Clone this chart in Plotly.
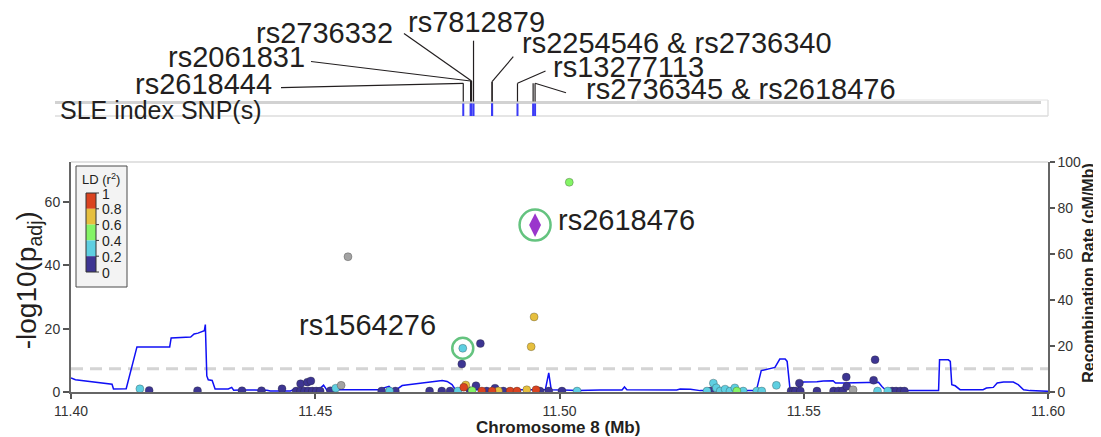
import plotly.graph_objects as go

# ---------------- page geometry (reference pixels) ----------------
# The browser page adds an 8 px body margin, so the figure is 8 px smaller
# and every reference pixel position is expressed relative to the plot area.
PAGE_W, PAGE_H, BODY = 1101, 437, 8
PL, PR, PT, PB = 71, 1048, 162, 392          # plot area in page pixels
FW, FH = PAGE_W - BODY, PAGE_H - BODY
ML, MT = PL - BODY, PT - BODY
MR, MBOT = FW - (PR - BODY), FH - (PB - BODY)
PW, PH = PR - PL, PB - PT
XMIN, XMAX = 11.40, 11.60
PMAX = 72.6      # -log10(p) axis top
RMAX = 100       # recombination axis top

# ---------------- data ----------------
x_ticks = [11.40, 11.45, 11.50, 11.55, 11.60]
x_ticktext = ["11.40", "11.45", "11.50", "11.55", "11.60"]
p_ticks = [0, 20, 40, 60]
r_ticks = [0, 20, 40, 60, 80, 100]
gw_threshold = 7.3

ld_bins = ["0.8-1", "0.6-0.8", "0.4-0.6", "0.2-0.4", "0-0.2"]
ld_bin_labels = ["1", "0.8", "0.6", "0.4", "0.2", "0"]
ld_colors = {"0.8-1": "#DA4320", "0.6-0.8": "#E6BF3E", "0.4-0.6": "#84F466",
             "0.2-0.4": "#5ECFE1", "0-0.2": "#3D3592", "NA": "#A3A3A3"}

recomb_pos = [11.4000, 11.4009, 11.4084, 11.4087, 11.4113, 11.4135, 11.4202, 11.4205,
              11.4245, 11.4252, 11.4260, 11.4273, 11.4275, 11.4278, 11.4281, 11.4289,
              11.4295, 11.4322, 11.4329, 11.4333, 11.4346, 11.4401, 11.4408, 11.4449,
              11.4456, 11.4469, 11.4510, 11.4517, 11.4524, 11.4537, 11.4633, 11.4639,
              11.4651, 11.4658, 11.4666, 11.4678, 11.4690, 11.4715, 11.4729, 11.4742,
              11.4760, 11.4770, 11.4780, 11.4787, 11.4961, 11.4971, 11.4978, 11.4983,
              11.5008, 11.5036, 11.5083, 11.5128, 11.5133, 11.5138, 11.5240, 11.5247,
              11.5268, 11.5288, 11.5403, 11.5413, 11.5441, 11.5446, 11.5451, 11.5462,
              11.5466, 11.5472, 11.5487, 11.5493, 11.5499, 11.5527, 11.5540, 11.5560,
              11.5565, 11.5581, 11.5643, 11.5653, 11.5660, 11.5667, 11.5677, 11.5776,
              11.5778, 11.5796, 11.5800, 11.5803, 11.5810, 11.5820, 11.5867, 11.5874,
              11.5888, 11.5896, 11.5909, 11.5929, 11.5939, 11.5950, 11.5963, 11.6000]
recomb_rate = [6.1, 5.3, 3.4, 1.3, 1.4, 19.6, 19.6, 23.5,
               23.9, 25.2, 25.6, 26.7, 29.3, 7.0, 5.3, 5.0,
               1.3, 1.3, 2.0, 0.8, 0.9, 0.8, 0.4, 0.4,
               1.2, 1.0, 1.6, 3.0, 0.8, 1.0, 1.0, 1.7,
               2.5, 1.0, 1.0, 2.8, 3.2, 3.9, 4.3, 4.8,
               5.0, 4.6, 3.2, 1.0, 1.0, 1.0, 8.3, 1.0,
               0.9, 0.6, 0.9, 0.9, 2.2, 1.0, 0.9, 1.3,
               1.2, 0.6, 0.6, 9.3, 10.7, 12.6, 14.3, 14.3,
               13.3, 1.0, 0.8, 3.6, 4.3, 4.5, 4.8, 4.9,
               3.9, 3.9, 4.2, 4.2, 2.4, 1.0, 0.6, 0.6,
               14.0, 14.0, 13.3, 3.2, 2.7, 1.0, 1.0, 1.7,
               2.0, 3.9, 4.3, 4.3, 3.2, 1.0, 0.6, 0.3]

# SNPs: position (Mb), -log10(p_adj), LD bin with lead SNP
snp_pos = [
    # r2 0-0.2
    11.4160, 11.4259, 11.4350, 11.4390, 11.4432, 11.4470, 11.4484, 11.4491,
    11.4461, 11.4470, 11.4478, 11.4486, 11.4494, 11.4502, 11.4510, 11.4531,
    11.4636, 11.4664, 11.4734, 11.4759, 11.4776, 11.4800, 11.4838, 11.4829,
    11.4817, 11.4851, 11.4868, 11.4885, 11.4960, 11.4978, 11.5005, 11.5309,
    11.5474, 11.5479, 11.5483, 11.5491, 11.5493, 11.5527, 11.5561, 11.5571,
    11.5580, 11.5587, 11.5588, 11.5646, 11.5643, 11.5681, 11.5689, 11.5698, 11.5706,
    # r2 0.2-0.4
    11.4141, 11.4542, 11.4652, 11.4792, 11.4802, 11.5036, 11.5302, 11.5315,
    11.5321, 11.5329, 11.5339, 11.5349, 11.5359, 11.5376, 11.5404, 11.5414,
    11.5444, 11.5651, 11.5672,
    # r2 0.4-0.6
    11.5020, 11.4821, 11.5363,
    # r2 0.6-0.8
    11.4948, 11.4942, 11.4808, 11.4875, 11.4933,
    # r2 0.8-1
    11.4804, 11.4841, 11.4862, 11.4899, 11.4913, 11.4952,
    # no LD information
    11.4567, 11.4553, 11.5601,
]
snp_logp = [
    0.5, 0.4, 0.4, 0.4, 1.0, 2.6, 3.1, 3.5,
    0.3, 0.3, 0.3, 0.3, 0.3, 0.3, 0.3, 0.4,
    0.3, 0.3, 0.3, 0.3, 0.3, 8.8, 15.3, 2.0,
    0.4, 0.3, 1.2, 0.3, 0.3, 0.3, 0.3, 0.3,
    0.3, 0.3, 0.3, 2.8, 0.3, 0.3, 0.3, 0.3,
    0.4, 4.7, 1.8, 10.2, 3.7, 0.3, 0.3, 0.3, 0.3,
    1.0, 1.2, 0.3, 0.3, 13.8, 0.3, 0.3, 2.8,
    1.3, 0.3, 0.9, 0.3, 1.3, 0.3, 0.3, 0.3,
    2.1, 0.3, 0.3,
    66.2, 0.4, 0.3,
    23.7, 14.3, 2.2, 0.3, 0.7,
    1.5, 0.3, 0.3, 0.3, 0.3, 0.7,
    42.7, 2.1, 0.7,
]
snp_ld = (["0-0.2"] * 49 + ["0.2-0.4"] * 19 + ["0.4-0.6"] * 3 +
          ["0.6-0.8"] * 5 + ["0.8-1"] * 6 + ["NA"] * 3)

lead_name, lead_pos, lead_logp = "rs2618476", 11.4950, 52.7
second_name, second_pos, second_logp = "rs1564276", 11.4802, 13.8

index_names = ["rs2618444", "rs2061831", "rs2736332", "rs7812879", "rs2254546",
               "rs2736340", "rs13277113", "rs2736345", "rs2618476"]
index_pos = [11.4803, 11.4818, 11.4820, 11.4824, 11.4862, 11.4862, 11.4914, 11.4946, 11.4950]

# ---------------- helpers (page pixel -> paper) ----------------
def pxx(x):
    return (x - PL) / PW

def pxy(y):
    return (PB - y) / PH

def mb_to_px(pos):
    return PL + (pos - XMIN) / (XMAX - XMIN) * PW

INK = "#231f20"
FONT = "Arial, Liberation Sans, Helvetica, sans-serif"

fig = go.Figure()

# recombination rate (right axis)
fig.add_trace(go.Scatter(x=recomb_pos, y=recomb_rate, mode="lines", yaxis="y",
                         line=dict(color="#1010F5", width=1.5), hoverinfo="skip",
                         showlegend=False))

# SNP points (left axis)
order = ["0-0.2", "0.2-0.4", "NA", "0.4-0.6", "0.6-0.8", "0.8-1"]
for b in order:
    xs = [p for p, l in zip(snp_pos, snp_ld) if l == b]
    ys = [v for v, l in zip(snp_logp, snp_ld) if l == b]
    fig.add_trace(go.Scatter(x=xs, y=ys, mode="markers", yaxis="y2",
                             marker=dict(size=8, color=ld_colors[b],
                                         line=dict(width=0.5, color="rgba(40,40,40,0.6)")),
                             showlegend=False))

# lead SNP diamond
fig.add_trace(go.Scatter(x=[lead_pos], y=[lead_logp], mode="markers", yaxis="y2",
                         marker=dict(symbol="diamond-tall", size=17, color="#9A35CC",
                                     line=dict(width=0)), showlegend=False))
# highlight circles
fig.add_trace(go.Scatter(x=[lead_pos, second_pos], y=[lead_logp, second_logp],
                         mode="markers", yaxis="y2",
                         marker=dict(symbol="circle-open", size=[31, 21], color="#22AA48",
                                     line=dict(width=2.5)), showlegend=False))

shapes = []
annotations = []

# genome-wide threshold
shapes.append(dict(type="line", xref="paper", yref="y2", x0=0, x1=1,
                   y0=gw_threshold, y1=gw_threshold, layer="below",
                   line=dict(color="#D4D4D4", width=3, dash="12px,7px")))
# top border of the plot
shapes.append(dict(type="line", xref="paper", yref="paper", x0=0, x1=1, y0=1, y1=1,
                   line=dict(color="#E2E2E2", width=2)))

# annotated SNPs in the main panel
annotations.append(dict(text=lead_name, x=pxx(556), y=pxy(220), xref="paper", yref="paper",
                        xanchor="left", yanchor="middle", showarrow=False,
                        font=dict(size=29, color=INK, family=FONT)))
annotations.append(dict(text=second_name, x=pxx(438), y=pxy(325), xref="paper", yref="paper",
                        xanchor="right", yanchor="middle", showarrow=False,
                        font=dict(size=29, color=INK, family=FONT)))

# ---------------- LD legend ----------------
shapes.append(dict(type="rect", xref="paper", yref="paper",
                   x0=pxx(76), x1=pxx(127), y0=pxy(166), y1=pxy(287),
                   fillcolor="#F3F3F3", line=dict(color="#4A4A4A", width=1)))
edges = [193, 208.8, 224.6, 240.4, 256.2, 272]
for i, b in enumerate(ld_bins):
    shapes.append(dict(type="rect", xref="paper", yref="paper",
                       x0=pxx(86), x1=pxx(96), y0=pxy(edges[i]), y1=pxy(edges[i + 1]),
                       fillcolor=ld_colors[b], line=dict(width=0)))
shapes.append(dict(type="rect", xref="paper", yref="paper",
                   x0=pxx(86), x1=pxx(96), y0=pxy(edges[0]), y1=pxy(edges[-1]),
                   line=dict(color="#333333", width=1)))
for i, lab in enumerate(ld_bin_labels):
    shapes.append(dict(type="line", xref="paper", yref="paper",
                       x0=pxx(96), x1=pxx(99), y0=pxy(edges[i]), y1=pxy(edges[i]),
                       line=dict(color="#333333", width=1)))
    annotations.append(dict(text=lab, x=pxx(99.5), y=pxy(edges[i] + 0.5), xref="paper",
                            yref="paper", xanchor="left", yanchor="middle", showarrow=False,
                            font=dict(size=14, color=INK, family=FONT)))
annotations.append(dict(text="LD (r<sup>2</sup>)", x=pxx(80), y=pxy(179), xref="paper",
                        yref="paper", xanchor="left", yanchor="middle", showarrow=False,
                        font=dict(size=13, color=INK, family=FONT)))

# ---------------- index SNP track ----------------
TRACK_L, TRACK_R, TRACK_TOP, TRACK_BOT = 55, 1048, 101.5, 116
shapes.append(dict(type="line", xref="paper", yref="paper",
                   x0=pxx(TRACK_L), x1=pxx(TRACK_R), y0=pxy(TRACK_BOT), y1=pxy(TRACK_BOT),
                   line=dict(color="#DCDCDC", width=1.5)))
shapes.append(dict(type="line", xref="paper", yref="paper",
                   x0=pxx(TRACK_R), x1=pxx(TRACK_R), y0=pxy(TRACK_BOT), y1=pxy(100),
                   line=dict(color="#DCDCDC", width=1.3)))
shapes.append(dict(type="line", xref="paper", yref="paper",
                   x0=pxx(637), x1=pxx(TRACK_R), y0=pxy(100), y1=pxy(100),
                   line=dict(color="#E2E2E2", width=1)))
shapes.append(dict(type="line", xref="paper", yref="paper",
                   x0=pxx(TRACK_L), x1=pxx(1041), y0=pxy(TRACK_TOP + 1), y1=pxy(TRACK_TOP + 1),
                   line=dict(color="#D2D2D2", width=3)))
for p in index_pos:
    xp = pxx(mb_to_px(p))
    shapes.append(dict(type="line", xref="paper", yref="paper", x0=xp, x1=xp,
                       y0=pxy(103.5), y1=pxy(116), line=dict(color="#3B3BF6", width=2)))
annotations.append(dict(text="SLE index SNP(s)", x=pxx(58), y=pxy(110), xref="paper",
                        yref="paper", xanchor="left", yanchor="middle", showarrow=False,
                        font=dict(size=25, color=INK, family=FONT)))

# labels: (text, member SNPs, elbow y, leader end (px), text x, text y, anchor)
track_labels = [
    ("rs2618444", ["rs2618444"], 83.3, (281, 87.7), 274, 84, "right"),
    ("rs2061831", ["rs2061831"], 81.0, (311, 61.5), 307, 56.5, "right"),
    ("rs2736332", ["rs2736332"], 81.0, (404, 33.5), 395, 33, "right"),
    ("rs7812879", ["rs7812879"], 40.7, None, 476.7, 21.7, "center"),
    ("rs2254546 &amp; rs2736340", ["rs2254546", "rs2736340"], 81.7, (513.3, 56.7), 520, 42.5, "left"),
    ("rs13277113", ["rs13277113"], 83.3, (545.5, 71), 550.7, 66.7, "left"),
    ("rs2736345 &amp; rs2618476", ["rs2736345", "rs2618476"], 83.3, (566, 92.7), 584, 89, "left"),
]
for text, members, elbow, end, tx, ty, anc in track_labels:
    xs = [mb_to_px(index_pos[index_names.index(m)]) for m in members]
    for xv in xs:
        shapes.append(dict(type="line", xref="paper", yref="paper", x0=pxx(xv), x1=pxx(xv),
                           y0=pxy(101.5), y1=pxy(elbow), line=dict(color=INK, width=1.2)))
    if end is not None:
        xv = max(xs)
        shapes.append(dict(type="line", xref="paper", yref="paper", x0=pxx(xv), x1=pxx(end[0]),
                           y0=pxy(elbow), y1=pxy(end[1]), line=dict(color=INK, width=1.2)))
    annotations.append(dict(text=text, x=pxx(tx), y=pxy(ty), xref="paper", yref="paper",
                            xanchor=anc, yanchor="middle", showarrow=False,
                            font=dict(size=29, color=INK, family=FONT)))

# ---------------- axis titles ----------------
annotations.append(dict(text="-log10(p<sub>adj</sub>)", x=pxx(28.3), y=pxy(280), xref="paper",
                        yref="paper", xanchor="center", yanchor="middle", textangle=-90,
                        showarrow=False, font=dict(size=28, color=INK, family=FONT)))
annotations.append(dict(text="<b>Recombination Rate (cM/Mb)</b>", x=pxx(1088.3), y=pxy(272.5),
                        xref="paper", yref="paper", xanchor="center", yanchor="middle",
                        textangle=-90, showarrow=False,
                        font=dict(size=16, color=INK, family=FONT)))
annotations.append(dict(text="<b>Chromosome 8 (Mb)</b>", x=pxx(558), y=pxy(427), xref="paper",
                        yref="paper", xanchor="center", yanchor="middle", showarrow=False,
                        font=dict(size=17, color=INK, family=FONT)))

tickfont = dict(size=14, color="#333333", family=FONT)
fig.update_layout(
    width=FW, height=FH,
    margin=dict(l=ML, r=MR, t=MT, b=MBOT, autoexpand=False),
    plot_bgcolor="white", paper_bgcolor="white",
    showlegend=False,
    xaxis=dict(range=[XMIN, XMAX], tickvals=x_ticks, ticktext=x_ticktext,
               ticks="outside", ticklen=5, tickwidth=1.5, tickcolor="#555555",
               showline=True, linecolor="#666666", linewidth=2, showgrid=False,
               zeroline=False, tickfont=tickfont),
    yaxis=dict(range=[0, RMAX], tickvals=r_ticks, side="right", ticks="outside",
               ticklen=5, tickwidth=1.5, tickcolor="#555555", showline=True,
               linecolor="#666666", linewidth=1.5, showgrid=False, zeroline=False,
               tickfont=tickfont),
    yaxis2=dict(range=[0, PMAX], tickvals=p_ticks, side="left", overlaying="y",
                ticks="outside", ticklen=6, tickwidth=1.5, tickcolor="#555555",
                showline=True, linecolor="#666666", linewidth=2, showgrid=False,
                zeroline=False, tickfont=tickfont),
    shapes=shapes,
    annotations=annotations,
)

fig.write_html("out.html")
